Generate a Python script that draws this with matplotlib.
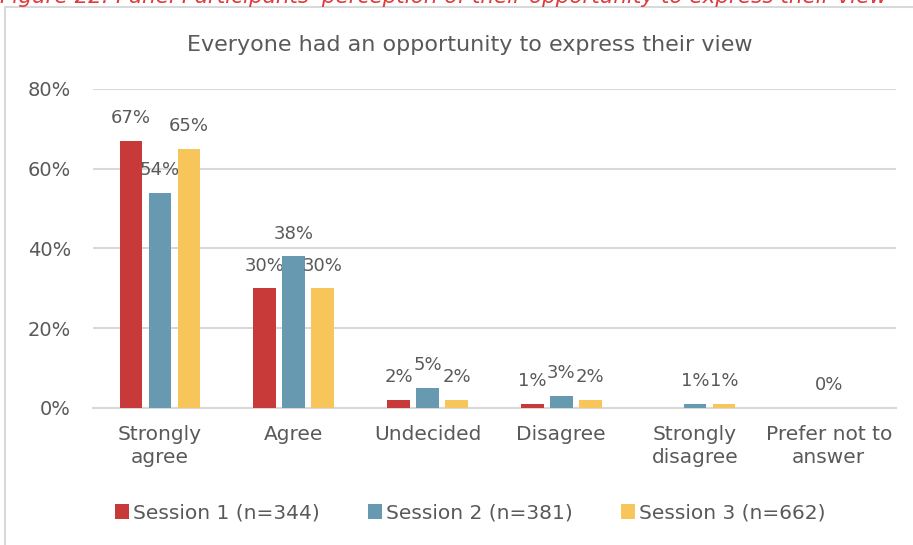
import numpy as np
import matplotlib.pyplot as plt
from matplotlib.patches import Rectangle

# Chart data
categories = ['Strongly\nagree', 'Agree', 'Undecided', 'Disagree',
              'Strongly\ndisagree', 'Prefer not to\nanswer']
series_names = ['Session 1 (n=344)', 'Session 2 (n=381)', 'Session 3 (n=662)']
session1 = [0.67, 0.30, 0.02, 0.01, 0.00, 0.00]
session2 = [0.54, 0.38, 0.05, 0.03, 0.01, 0.00]
session3 = [0.65, 0.30, 0.02, 0.02, 0.01, 0.00]
# data labels as shown in the chart (empty = not shown)
labels1 = ['67%', '30%', '2%', '1%', '', '']
labels2 = ['54%', '38%', '5%', '3%', '1%', '0%']
labels3 = ['65%', '30%', '2%', '2%', '1%', '']
yticks = [0, 0.2, 0.4, 0.6, 0.8]
ytick_labels = ['0%', '20%', '40%', '60%', '80%']

title = 'Everyone had an opportunity to express their view'
caption = "Figure 22: Panel Participants' perception of their opportunity to express their view"

colors = ['#C8393A', '#6799B0', '#F7C55A']
text_color = '#595959'
grid_color = '#D9D9D9'

plt.rcParams['font.family'] = ['DejaVu Sans']

fig = plt.figure(figsize=(9.13, 5.45), dpi=100)
ax = fig.add_axes([0.102, 0.2514, 0.879, 0.5853])

# chart frame, cut off at right and bottom like the screenshot
fig.patches.append(Rectangle((5 / 913, -0.05), 1.2, 1 - 7 / 545 + 0.05,
                             transform=fig.transFigure, fill=False,
                             edgecolor=grid_color, linewidth=1.5))

# clipped caption along the top edge, as in the screenshot
fig.text(0.0, 1 - 3 / 545, caption, color='#E03A3A', style='italic',
         fontsize=15.5, va='baseline', ha='left')

x = np.arange(len(categories))
width = 0.17
offset = 0.217
all_values = [session1, session2, session3]
all_labels = [labels1, labels2, labels3]
for i, (vals, labs) in enumerate(zip(all_values, all_labels)):
    pos = x + (i - 1) * offset
    bars = ax.bar(pos, vals, width, color=colors[i], label=series_names[i],
                  zorder=3)
    for b, lab in zip(bars, labs):
        if lab:
            ax.text(b.get_x() + b.get_width() / 2, b.get_height() + 0.034, lab,
                    ha='center', va='bottom', fontsize=13, color=text_color)

ax.set_xlim(-0.5, len(categories) - 0.5)
ax.set_ylim(0, 0.8)
ax.set_yticks(yticks)
ax.set_yticklabels(ytick_labels)
ax.set_xticks(x)
ax.set_xticklabels(categories, linespacing=1.3)
ax.tick_params(axis='y', length=0, pad=16, labelsize=14, labelcolor=text_color)
ax.tick_params(axis='x', length=0, pad=12, labelsize=14.5, labelcolor=text_color)
ax.yaxis.grid(True, color=grid_color, linewidth=1.5, zorder=0)
for side in ['top', 'right', 'left']:
    ax.spines[side].set_visible(False)
ax.spines['bottom'].set_color(grid_color)
ax.spines['bottom'].set_linewidth(1.5)

fig.text(0.515, 1 - 45 / 545, title, ha='center', va='center',
         fontsize=16, color=text_color)

fig.legend(loc='center', bbox_to_anchor=(0.515, 1 - 513 / 545), ncol=3,
           frameon=False, fontsize=14.5, labelcolor=text_color,
           handlelength=0.7, handleheight=0.7, handletextpad=0.2,
           columnspacing=2.4)

fig.savefig('out.png', dpi=100)
